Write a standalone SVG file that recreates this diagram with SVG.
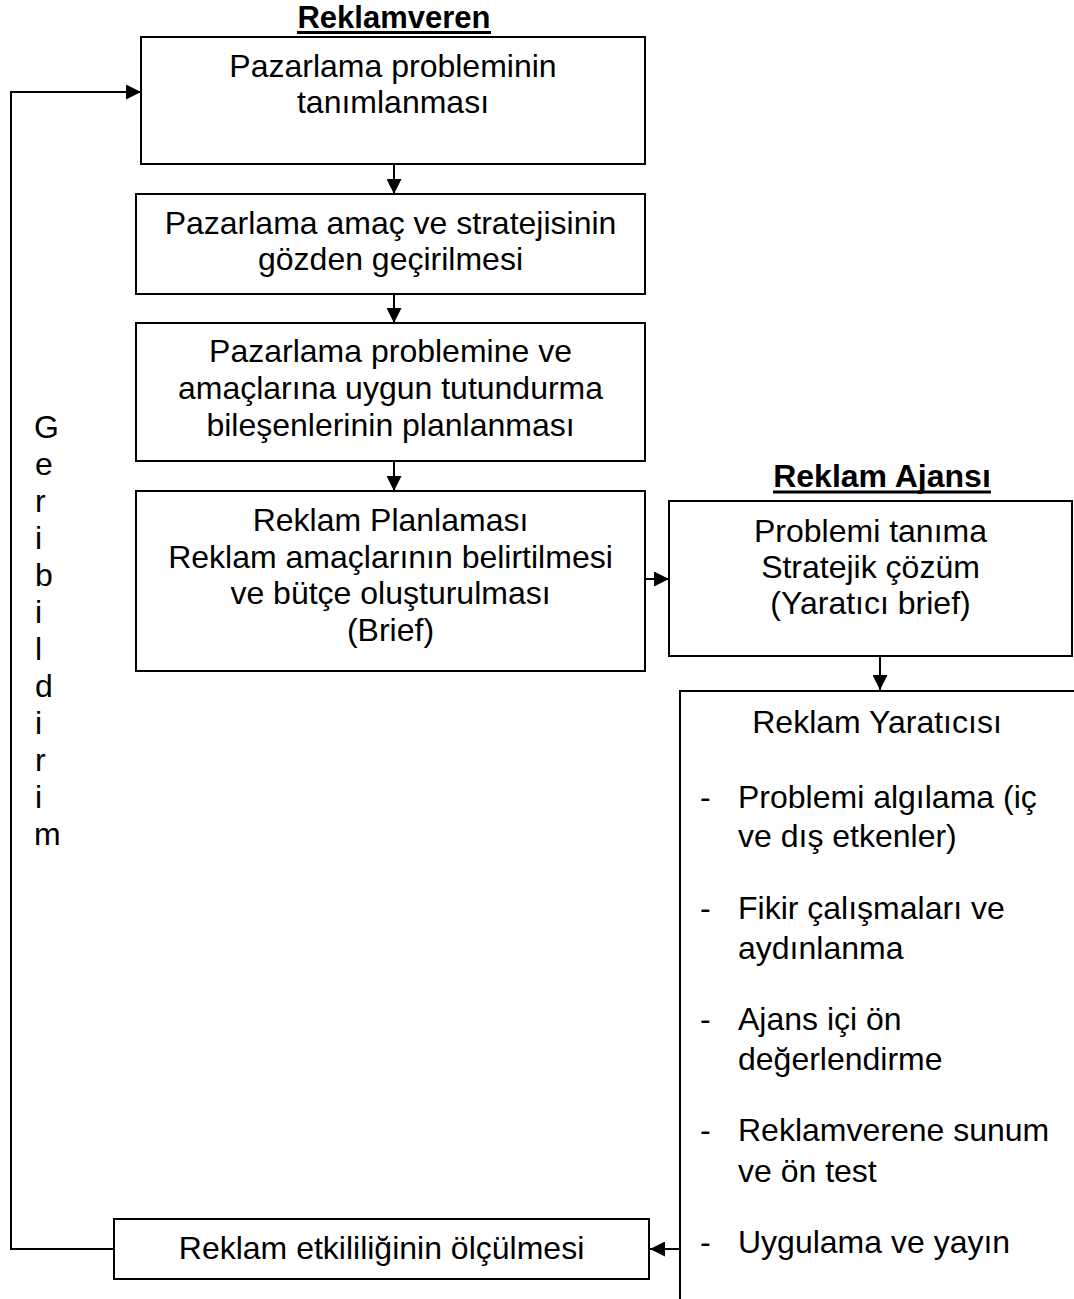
<svg xmlns="http://www.w3.org/2000/svg" width="1074" height="1299" viewBox="0 0 1074 1299">
<style>
  .box { fill: #fff; stroke: #000; stroke-width: 2; }
  .t { font-family: "Liberation Sans", Arial, sans-serif; font-size: 32px; fill: #000; }
  .c { text-anchor: middle; }
  .h { font-weight: bold; }
  .conn { fill: none; stroke: #000; stroke-width: 2; }
  .ul { stroke: #000; stroke-width: 3; }
</style>
<defs>
  <marker id="arr" markerUnits="userSpaceOnUse" markerWidth="15" markerHeight="15" refX="15" refY="7.5" orient="auto">
    <path d="M0,0 L15,7.5 L0,15 z" fill="#000"/>
  </marker>
</defs>
<rect width="1074" height="1299" fill="#fff"/>

<g id="title-reklamveren">
  <text class="t c h" x="394" y="28" style="font-size:31px">Reklamveren</text>
  <line class="ul" x1="297" y1="32.5" x2="491" y2="32.5"/>
</g>
<g id="title-ajans">
  <text class="t c h" x="882" y="487">Reklam Ajansı</text>
  <line class="ul" x1="773" y1="492" x2="991" y2="492"/>
</g>

<g id="n1">
  <rect class="box" x="141" y="37" width="504" height="127"/>
  <text class="t c" x="393" y="77">Pazarlama probleminin</text>
  <text class="t c" x="393" y="113">tanımlanması</text>
</g>
<g id="n2">
  <rect class="box" x="136" y="194" width="509" height="100"/>
  <text class="t c" x="390.5" y="234">Pazarlama amaç ve stratejisinin</text>
  <text class="t c" x="390.5" y="270">gözden geçirilmesi</text>
</g>
<g id="n3">
  <rect class="box" x="136" y="323" width="509" height="138"/>
  <text class="t c" x="390.5" y="362">Pazarlama problemine ve</text>
  <text class="t c" x="390.5" y="399">amaçlarına uygun tutundurma</text>
  <text class="t c" x="390.5" y="436">bileşenlerinin planlanması</text>
</g>
<g id="n4">
  <rect class="box" x="136" y="491" width="509" height="180"/>
  <text class="t c" x="390.5" y="531">Reklam Planlaması</text>
  <text class="t c" x="390.5" y="568">Reklam amaçlarının belirtilmesi</text>
  <text class="t c" x="390.5" y="604">ve bütçe oluşturulması</text>
  <text class="t c" x="390.5" y="641">(Brief)</text>
</g>
<g id="n5">
  <rect class="box" x="669" y="501" width="403" height="155"/>
  <text class="t c" x="870.5" y="542">Problemi tanıma</text>
  <text class="t c" x="870.5" y="578">Stratejik çözüm</text>
  <text class="t c" x="870.5" y="614">(Yaratıcı brief)</text>
</g>
<g id="n6">
  <path class="conn" d="M1076,691 L680,691 L680,1301"/>
  <text class="t c" x="877" y="733">Reklam Yaratıcısı</text>
  <text class="t" x="700" y="808">-</text>
  <text class="t" x="738" y="808">Problemi algılama (iç</text>
  <text class="t" x="738" y="847">ve dış etkenler)</text>
  <text class="t" x="700" y="919">-</text>
  <text class="t" x="738" y="919">Fikir çalışmaları ve</text>
  <text class="t" x="738" y="959">aydınlanma</text>
  <text class="t" x="700" y="1030">-</text>
  <text class="t" x="738" y="1030">Ajans içi ön</text>
  <text class="t" x="738" y="1070">değerlendirme</text>
  <text class="t" x="700" y="1141">-</text>
  <text class="t" x="738" y="1141">Reklamverene sunum</text>
  <text class="t" x="738" y="1182">ve ön test</text>
  <text class="t" x="700" y="1253">-</text>
  <text class="t" x="738" y="1253">Uygulama ve yayın</text>
</g>
<g id="n7">
  <rect class="box" x="114" y="1219" width="535" height="60"/>
  <text class="t c" x="381.5" y="1259">Reklam etkililiğinin ölçülmesi</text>
</g>
<g id="feedback-label">
  <text class="t" x="34" y="438">G</text>
  <text class="t" x="35" y="475">e</text>
  <text class="t" x="35" y="512">r</text>
  <text class="t" x="35" y="549">i</text>
  <text class="t" x="35" y="586">b</text>
  <text class="t" x="35" y="623">i</text>
  <text class="t" x="35" y="660">l</text>
  <text class="t" x="35" y="697">d</text>
  <text class="t" x="35" y="734">i</text>
  <text class="t" x="35" y="771">r</text>
  <text class="t" x="35" y="808">i</text>
  <text class="t" x="34" y="845">m</text>
</g>

<g id="connectors">
  <line class="conn" x1="394" y1="164" x2="394" y2="194" marker-end="url(#arr)"/>
  <line class="conn" x1="394" y1="294" x2="394" y2="323" marker-end="url(#arr)"/>
  <line class="conn" x1="394" y1="461" x2="394" y2="491" marker-end="url(#arr)"/>
  <line class="conn" x1="645" y1="579" x2="669" y2="579" marker-end="url(#arr)"/>
  <line class="conn" x1="880" y1="656" x2="880" y2="690" marker-end="url(#arr)"/>
  <line class="conn" x1="680" y1="1249" x2="650" y2="1249" marker-end="url(#arr)"/>
  <path class="conn" d="M114,1249 L11,1249 L11,92 L141,92" marker-end="url(#arr)"/>
</g>
</svg>
